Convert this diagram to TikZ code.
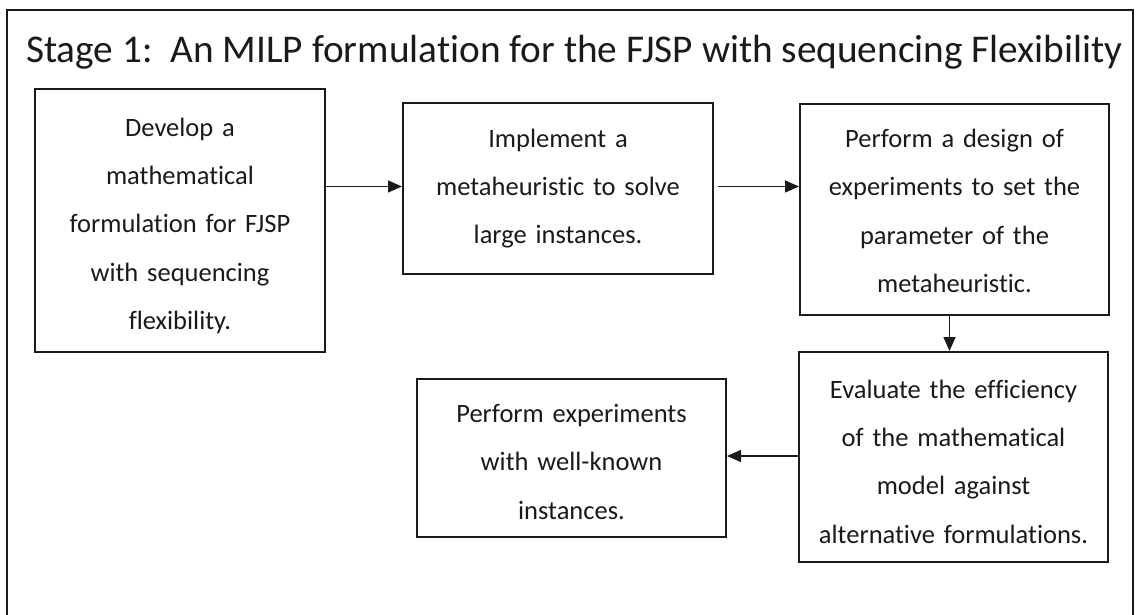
\documentclass[tikz,border=0pt]{standalone}
\usepackage{fontspec}
\setmainfont{Carlito}[Ligatures={NoCommon}]
\usetikzlibrary{arrows.meta}
\definecolor{ink}{HTML}{1A1A1A}
\tikzset{
  stepbox/.style={draw=ink, line width=2pt, rectangle, inner sep=0pt,
    align=center, text=ink, font={\fontsize{26.5}{48.4}\selectfont}},
  % a tall invisible strut on the first line pushes the text block down
  lowered/.style={execute at begin node={\rule{0pt}{#1}}},
  flow/.style={draw=ink, line width=1.3pt,
    -{Triangle[length=14pt,width=12pt]}},
}
\begin{document}
\begin{tikzpicture}[x=1pt,y=-1pt]
  \useasboundingbox (0,0) rectangle (1136,615);
  % outer frame (open at the bottom edge of the page)
  \draw[ink, line width=2pt] (7,615) -- (7,10) -- (1133,10) -- (1133,615);
  % heading
  \node[anchor=base west, inner sep=0pt, text=ink,
        font={\fontsize{39.3}{44}\selectfont}] (title) at (26,63)
    {Stage 1:\ \ An MILP formulation for the FJSP with sequencing Flexibility};
  % process steps
  \node[stepbox, lowered=29pt, minimum width=290pt, minimum height=263pt, text width=280pt] (b1) at (180,220.5)
    {Develop a\\ mathematical\\ formulation for FJSP\\ with sequencing\\ flexibility.};
  \node[stepbox, minimum width=310pt, minimum height=171pt, text width=300pt] (b2) at (558,188.5)
    {Implement a\\ metaheuristic to solve\\ large instances.};
  \node[stepbox, lowered=21.5pt, minimum width=309pt, minimum height=211pt, text width=300pt] (b3) at (954.5,209.5)
    {Perform a design of\\ experiments to set the\\ parameter of the\\ metaheuristic.};
  \node[stepbox, lowered=27.5pt, minimum width=309pt, minimum height=210pt, text width=305pt] (b4) at (953.5,457)
    {Evaluate the efficiency\\ of the mathematical\\ model against\\ alternative formulations.};
  \node[stepbox, lowered=25.5pt, minimum width=309pt, minimum height=158pt, text width=300pt] (b5) at (571.5,458)
    {Perform experiments\\ with well-known\\ instances.};
  % connectors
  \draw[flow] ([yshift=2pt]b2.west -| b1.east) -- ([yshift=2pt]b2.west);
  \draw[flow, shorten <=4pt] ([yshift=2pt]b2.east) -- ([yshift=2pt]b2.east -| b3.west);
  \draw[flow] ([xshift=-5pt]b3.south) -- ([xshift=-5pt]b3.south |- b4.north);
  \draw[flow] ([yshift=1pt]b4.west) -- ([yshift=1pt]b4.west -| b5.east);
\end{tikzpicture}
\end{document}
